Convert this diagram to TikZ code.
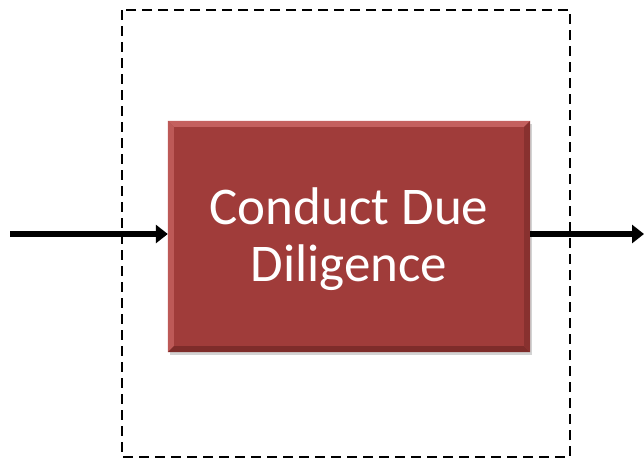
\documentclass[tikz,border=0pt]{standalone}
\usepackage{fontspec}
\setmainfont{Carlito}
\usetikzlibrary{arrows.meta,shadows}
\definecolor{boxred}{HTML}{A03C3A}
\definecolor{boxlight}{HTML}{C4605E}
\definecolor{boxdark}{HTML}{7E2C2A}
\tikzset{
  flow/.style={line width=6pt,-{Triangle[length=12pt,width=18pt]}},
  frame/.style={draw,line width=1.6pt,dash pattern=on 10pt off 6pt},
  procbox/.style={fill=boxred,minimum width=362pt,minimum height=231pt,inner sep=0pt,
    drop shadow={shadow xshift=2pt,shadow yshift=-3pt,opacity=0.35}},
  boxtext/.style={text=white,align=center,font=\fontsize{53}{57}\selectfont,inner sep=0pt},
}
\begin{document}
\begin{tikzpicture}[x=1pt,y=-1pt]
\useasboundingbox (0,0) rectangle (644,459);
\draw[frame] (122,10) rectangle (570,457);
\node[procbox] (box) at (349,236.5) {};
% bevel edges
\fill[boxlight] (box.north west) -- (box.north east) -- ([xshift=-6pt,yshift=-6pt]box.north east) -- ([xshift=6pt,yshift=-6pt]box.north west) -- cycle;
\fill[boxlight!80!boxred] (box.north west) -- ([xshift=6pt,yshift=-6pt]box.north west) -- ([xshift=6pt,yshift=6pt]box.south west) -- (box.south west) -- cycle;
\fill[boxdark] (box.south west) -- (box.south east) -- ([xshift=-6pt,yshift=6pt]box.south east) -- ([xshift=6pt,yshift=6pt]box.south west) -- cycle;
\fill[boxdark!70!boxred] (box.north east) -- (box.south east) -- ([xshift=-6pt,yshift=6pt]box.south east) -- ([xshift=-6pt,yshift=-6pt]box.north east) -- cycle;
\node[boxtext] (label) at ([yshift=-3pt]box.center) {Conduct Due\\Diligence};
\coordinate (in) at (10,234);
\coordinate (out) at (644,234);
\draw[flow] (in) -- (box.west |- in);
\draw[flow] (box.east |- out) -- (out);
\end{tikzpicture}
\end{document}
